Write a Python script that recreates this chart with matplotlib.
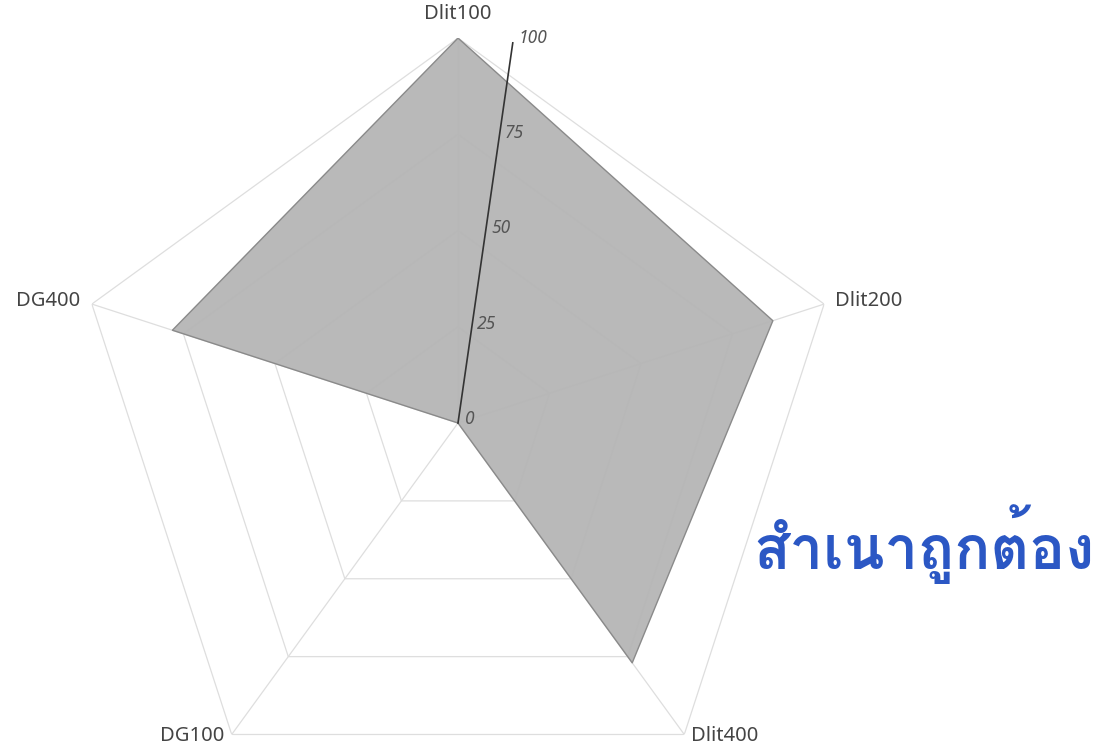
import numpy as np
import matplotlib
matplotlib.use("Agg")
import matplotlib.pyplot as plt
from matplotlib import font_manager, ft2font

# ---- data ----
categories = ["Dlit100", "Dlit200", "Dlit400", "DG100", "DG400"]
values = [100, 86, 77, 0, 78]
r_ticks = [0, 25, 50, 75, 100]
r_tick_labels = ["0", "25", "50", "75", "100"]
stamp_text = "สำเนาถูกต้อง"

# ---- fonts ----
def find_font(ch):
    seen = set()
    for f in font_manager.fontManager.ttflist:
        if f.fname in seen:
            continue
        seen.add(f.fname)
        try:
            cm = ft2font.FT2Font(f.fname).get_charmap()
            if ord(ch) in cm:
                return f.name
        except Exception:
            pass
    return None

thai_font = find_font("ส")
base_font = "Noto Sans"

fig = plt.figure(figsize=(11.18, 7.47), dpi=100)
fig.patch.set_facecolor("white")
ax = fig.add_axes([0.0653, -0.0817, 0.6887, 1.0308], projection="polar")
ax.set_theta_offset(np.pi / 2)
ax.set_theta_direction(-1)
ax.set_ylim(0, 100)
ax.set_facecolor("none")
ax.spines["polar"].set_visible(False)
ax.grid(False)
ax.set_xticks([])
ax.set_yticks([])

n = len(categories)
angles = np.arange(n) * 2 * np.pi / n
closed_angles = np.concatenate([angles, angles[:1]])

grid_color = "#dedede"
# pentagon grid
for lvl in r_ticks[1:]:
    ax.plot(closed_angles, [lvl] * (n + 1), color=grid_color, lw=0.9, zorder=1)
# spokes
for a in angles:
    ax.plot([a, a], [0, r_ticks[-1]], color=grid_color, lw=0.9, zorder=1)

# data polygon
vals = np.array(values + values[:1], dtype=float)
ax.fill(closed_angles, vals, facecolor="#b5b5b5", edgecolor="none", alpha=0.95, zorder=2)
ax.plot(closed_angles, vals, color="#8a8a8a", lw=1.0, zorder=3)

# radial axis line (tilted)
raxis_angle = np.deg2rad(8.2)
ax.plot([raxis_angle, raxis_angle], [0, r_ticks[-1]], color="#333333", lw=1.2, zorder=4)
for rt, lab in zip(r_ticks, r_tick_labels):
    ax.annotate(lab, xy=(raxis_angle, rt), xytext=(4, 3), textcoords="offset points",
                ha="left", va="center", fontsize=12.5, style="italic",
                color="#555555", family=base_font, zorder=5)

# category labels
label_specs = {
    "Dlit100": dict(off=(0, 10), ha="center", va="bottom"),
    "Dlit200": dict(off=(8, 2), ha="left", va="center"),
    "Dlit400": dict(off=(5, -1), ha="left", va="center"),
    "DG100": dict(off=(-5, -1), ha="right", va="center"),
    "DG400": dict(off=(-8, 2), ha="right", va="center"),
}
for a, cat in zip(angles, categories):
    s = label_specs[cat]
    ax.annotate(cat, xy=(a, r_ticks[-1]), xytext=s["off"], textcoords="offset points",
                ha=s["ha"], va=s["va"], fontsize=14.5, color="#444444",
                family=base_font, annotation_clip=False)

# stamp text overlay
fam = [thai_font, "DejaVu Sans"] if thai_font else ["DejaVu Sans"]
fig.text(0.826, 0.272, stamp_text, ha="center", va="center", fontsize=43,
         fontweight="bold", color="#2b57c4", family=fam)

fig.savefig("out.png", dpi=100, facecolor="white")
